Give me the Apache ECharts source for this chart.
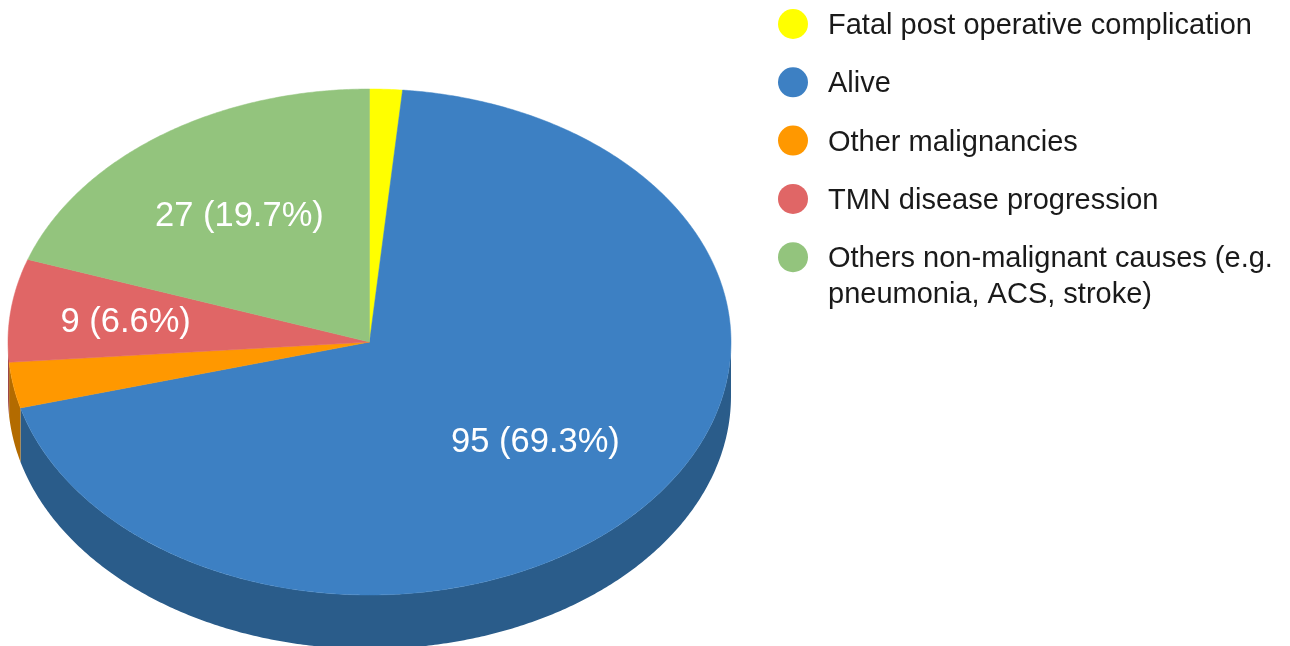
<!DOCTYPE html>
<html>
<head>
<meta charset="utf-8">
<style>html,body{margin:0;padding:0;background:#fff}#c{width:1290px;height:646px}</style>
<script src="https://cdn.jsdelivr.net/npm/echarts@6/dist/echarts.min.js"></script>
</head>
<body>
<div id="c"></div>
<script>
const categories = ['Fatal post operative complication','Alive','Other malignancies','TMN disease progression','Others non-malignant causes (e.g. pneumonia, ACS, stroke)'];
const legendFirstLine = 'Others non-malignant causes (e.g.';
const legendSecondLine = 'pneumonia, ACS, stroke)';
const values = [2, 95, 4, 9, 27];
const colors = ['#FFFF00','#3D80C3','#FF9800','#E06666','#93C47D'];
const sideColors = ['#B3B300','#2A5C8A','#B36B00','#9D4747','#678957'];
const showLabel = [false, true, false, true, true];
const labelRadius = [0.6, 0.6, 0.6, 0.68, 0.62];

const CX = 369.5, CY = 342, RX = 361.5, RY = 253, DEPTH = 54;
const total = values.reduce((a, b) => a + b, 0);
const pt = (a, f = 1, dy = 0) => [CX + RX * f * Math.sin(a), CY - RY * f * Math.cos(a) + dy];
const arc = (a0, a1) => { const n = Math.max(2, Math.ceil((a1 - a0) * 120)), p = [];
  for (let i = 0; i <= n; i++) p.push(a0 + (a1 - a0) * i / n); return p; };

let cum = 0;
const series = categories.map((name, i) => {
  const start = cum / total * 2 * Math.PI;
  cum += values[i];
  const end = cum / total * 2 * Math.PI;
  return {
    type: 'custom', name, coordinateSystem: 'none', silent: true,
    itemStyle: { color: colors[i] },
    data: [[values[i], start, end]],
    renderItem: (params, api) => {
      const a0 = api.value(1), a1 = api.value(2), children = [];
      const w0 = Math.max(a0, Math.PI / 2), w1 = Math.min(a1, 1.5 * Math.PI);
      if (w1 > w0) {
        const as = arc(w0, w1);
        children.push({ type: 'polygon', shape: { points: as.map(a => pt(a)).concat(as.slice().reverse().map(a => pt(a, 1, DEPTH))) },
          style: { fill: sideColors[i] } });
      }
      children.push({ type: 'polygon', z2: 2, shape: { points: [[CX, CY]].concat(arc(a0, a1).map(a => pt(a))) },
        style: { fill: colors[i], stroke: colors[i], lineWidth: 0.5 } });
      if (showLabel[i]) {
        const p = pt((a0 + a1) / 2, labelRadius[i], 2.5);
        children.push({ type: 'text', z2: 5, x: p[0], y: p[1], style: {
          text: values[i] + ' (' + (values[i] / total * 100).toFixed(1) + '%)',
          fill: '#fff', font: '34.5px "Liberation Sans"', align: 'center', verticalAlign: 'middle' } });
      }
      return { type: 'group', children };
    }
  };
});

const chart = echarts.init(document.getElementById('c'), null, { renderer: 'canvas' });
chart.setOption({
  animation: false,
  backgroundColor: '#fff',
  legend: {
    orient: 'vertical', left: 778, top: 7.5, itemWidth: 30, itemHeight: 30, itemGap: 25.3,
    icon: 'circle', selectedMode: false, align: 'left', padding: 0,
    data: categories,
    formatter: n => '{t|' + (n === categories[4] ? legendFirstLine : n) + '}',
    textStyle: { rich: { t: { fontFamily: 'Liberation Sans', fontSize: 29, color: '#1a1a1a', lineHeight: 30, padding: [4, 0, 0, 15] } } }
  },
  graphic: [{ type: 'text', left: 828, top: 280, silent: true,
    style: { text: legendSecondLine, fill: '#1a1a1a', font: '29px "Liberation Sans"' } }],
  series
});
</script>
</body>
</html>
